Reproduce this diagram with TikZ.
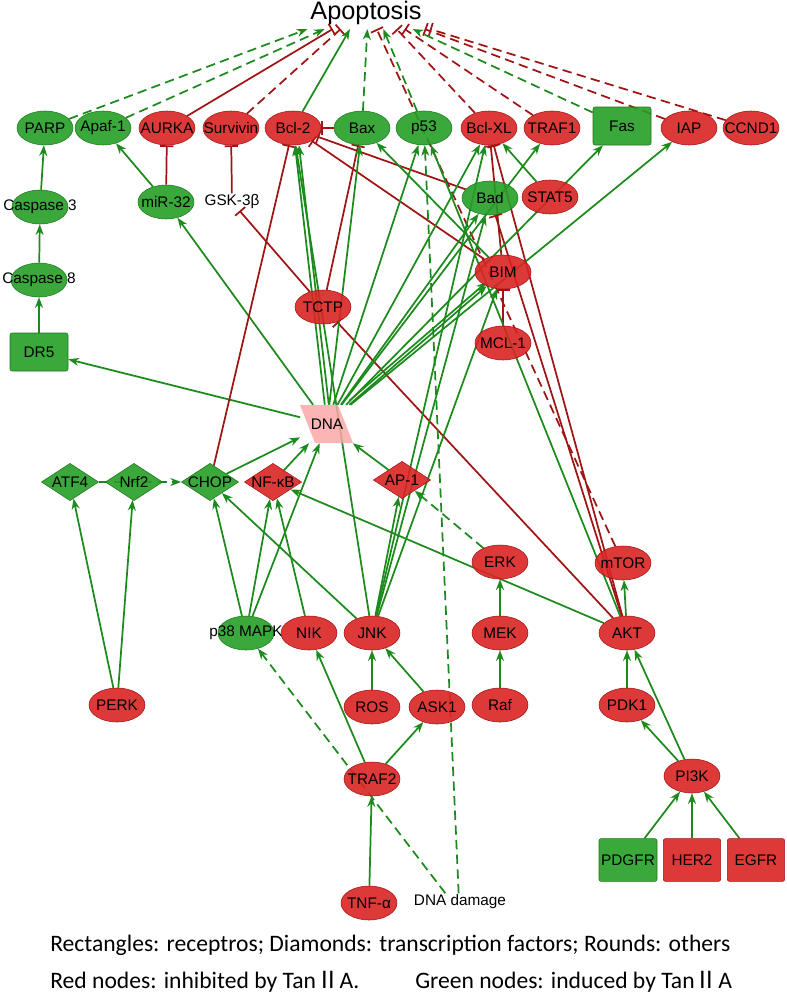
\documentclass[tikz,border=0pt]{standalone}
\usepackage{fontspec}
\setmainfont{Liberation Sans}
\newfontfamily\legendfont{Carlito}
\newfontfamily\cjkfont{Noto Sans CJK SC}
\usepackage{tikz}
\usetikzlibrary{shapes.geometric, arrows.meta}
\pgfdeclarelayer{edges}
\pgfsetlayers{edges,main}

\definecolor{ngreen}{RGB}{38,158,38}
\definecolor{ngreenline}{RGB}{28,120,28}
\definecolor{nred}{RGB}{218,36,36}
\definecolor{nredline}{RGB}{160,18,18}
\definecolor{lgreen}{RGB}{28,138,28}
\definecolor{lred}{RGB}{160,20,20}
\definecolor{dnapink}{RGB}{250,168,168}

\newcommand{\nodefont}{\fontsize{11.5}{13}\selectfont}
\newcommand{\romtwo}{{\cjkfont Ⅱ}}

\tikzset{
  base/.style={inner sep=0pt, font=\nodefont, fill opacity=0.9, text opacity=1,
    execute at begin node={\hbox to 0pt\bgroup\hss},
    execute at end node={\hss\egroup}},
  gnode/.style={base, ellipse, fill=ngreen, draw=ngreenline, minimum width=42pt, minimum height=25.5pt},
  rnode/.style={base, ellipse, fill=nred, draw=nredline, minimum width=42pt, minimum height=25.5pt},
  grect/.style={base, rectangle, rounded corners=1.5pt, fill=ngreen, draw=ngreenline, minimum width=43.5pt, minimum height=28.5pt},
  rrect/.style={base, rectangle, rounded corners=1.5pt, fill=nred, draw=nredline, minimum width=43pt, minimum height=32pt},
  gdia/.style={base, diamond, aspect=1.5, fill=ngreen, draw=ngreenline, minimum width=43pt, minimum height=28pt},
  rdia/.style={base, diamond, aspect=1.5, fill=nred, draw=nredline, minimum width=43pt, minimum height=28pt},
  plain/.style={font=\nodefont, inner sep=1pt},
  gact/.style={draw=lgreen, line width=1.3pt, -{Stealth[length=8pt,width=6pt]}},
  gdash/.style={gact, dash pattern=on 7pt off 4pt},
  rinh/.style={draw=lred, line width=1.3pt, -{Bar[width=10pt]}},
  rdash/.style={rinh, dash pattern=on 7pt off 4pt},
}

\begin{document}
\begin{tikzpicture}[x=0.75pt, y=-0.75pt, >=stealth]
    \useasboundingbox (0,0) rectangle (787,1006);

    % Title
    \node[font=\fontsize{19}{22}\selectfont, inner xsep=0pt, inner ysep=3pt] (apo) at (366,13) {Apoptosis};

    % Top row
    \node[gnode] (parp) at (45,128) {PARP};
    \node[gnode] (apaf) at (103,128) {Apaf-1};
    \node[rnode] (aurka) at (167,128) {AURKA};
    \node[rnode] (surv) at (231,128) {Survivin};
    \node[rnode] (bcl2) at (293,128) {Bcl-2};
    \node[gnode] (bax) at (362,128) {Bax};
    \node[gnode] (p53) at (424,128) {p53};
    \node[rnode] (bclxl) at (489,128) {Bcl-XL};
    \node[rnode] (traf1) at (552,128) {TRAF1};
    \node[grect] (fas) at (622,126) {Fas};
    \node[rnode] (iap) at (689,128) {IAP};
    \node[rnode] (ccnd1) at (751,128) {CCND1};

    % Left column
    \node[gnode] (casp3) at (40,207) {Caspase 3};
    \node[gnode] (casp8) at (39,280) {Caspase 8};
    \node[grect] (dr5) at (39,352) {DR5};

    % Middle layer
    \node[gnode] (mir32) at (166,202) {miR-32};
    \node[plain] (gsk) at (232,202) {GSK-3β};
    \node[gnode] (bad) at (490,198) {Bad};
    \node[rnode] (stat5) at (550,197) {STAT5};
    \node[rnode] (bim) at (503,272) {BIM};
    \node[rnode] (tctp) at (323,307) {TCTP};
    \node[rnode] (mcl1) at (503,343) {MCL-1};

    % DNA hub (parallelogram)
    \fill[dnapink, opacity=0.85] (300,405) -- (338,405) -- (353,443) -- (315,443) -- cycle;
    \node[base, rectangle, minimum width=40pt, minimum height=28.5pt] (dna) at (327,424) {DNA};

    % Transcription factors
    \node[gdia] (atf4) at (70,482) {ATF4};
    \node[gdia] (nrf2) at (134,482) {Nrf2};
    \node[gdia] (chop) at (210,482) {CHOP};
    \node[rdia] (nfkb) at (273,482) {NF-κB};
    \node[rdia] (ap1) at (402,480) {AP-1};

    % Kinases
    \node[rnode] (erk) at (500,562) {ERK};
    \node[rnode] (mtor) at (623,563) {mTOR};
    \node[gnode] (p38) at (246,633) {p38 MAPK};
    \node[rnode] (nik) at (309,633) {NIK};
    \node[rnode] (jnk) at (372,633) {JNK};
    \node[rnode] (mek) at (500,633) {MEK};
    \node[rnode] (akt) at (627,633) {AKT};
    \node[rnode] (perk) at (117,705) {PERK};
    \node[rnode] (ros) at (372,707) {ROS};
    \node[rnode] (ask1) at (437,707) {ASK1};
    \node[rnode] (raf) at (500,705) {Raf};
    \node[rnode] (pdk1) at (627,705) {PDK1};
    \node[rnode] (traf2) at (372,779) {TRAF2};
    \node[rnode] (pi3k) at (692,776) {PI3K};

    % Receptors and stimuli
    \node[grect, minimum height=32pt] (pdgfr) at (628,860) {PDGFR};
    \node[rrect] (her2) at (692,860) {HER2};
    \node[rrect] (egfr) at (756,860) {EGFR};
    \node[rnode] (tnfa) at (369,903) {TNF-α};
    \node[plain] (dnadmg) at (460,902) {DNA damage};

    % Legend
    \node[anchor=west, inner sep=0pt, font=\legendfont\fontsize{17.7}{20}\selectfont] (leg1) at (50,945)
        {Rectangles: receptros; Diamonds: transcription factors; Rounds: others};
    \node[anchor=west, inner sep=0pt, font=\legendfont\fontsize{17.7}{20}\selectfont] (leg2) at (50,982)
        {Red nodes: inhibited by Tan\romtwo A.};
    \node[anchor=west, inner sep=0pt, font=\legendfont\fontsize{17.7}{20}\selectfont] (leg3) at (415,982)
        {Green nodes: induced by Tan\romtwo A};

    \begin{pgfonlayer}{edges}
    % Into apoptosis
    \draw[gdash] (parp) -- ([xshift=-44pt]apo.south);
    \draw[gdash] (apaf) -- ([xshift=-31pt]apo.south);
    \draw[rinh] (aurka) -- ([xshift=-25pt]apo.south);
    \draw[rdash] (surv) -- ([xshift=-19pt]apo.south);
    \draw[gact] (bcl2) -- ([xshift=-12pt]apo.south);
    \draw[gdash] (bax) -- ([xshift=1pt]apo.south);
    \draw[rdash] (mtor) -- ([xshift=8pt]apo.south);
    \draw[gdash] (p53) -- ([xshift=13pt]apo.south);
    \draw[rdash] (bclxl) -- ([xshift=23pt]apo.south);
    \draw[rdash] (traf1) -- ([xshift=29pt]apo.south);
    \draw[gdash] (fas) -- ([xshift=35pt]apo.south);
    \draw[rdash] (iap) -- ([xshift=44pt]apo.south);
    \draw[rdash] (ccnd1) -- ([xshift=48pt]apo.south);

    % Caspase cascade
    \draw[gact] (casp3) -- (parp);
    \draw[gact] (casp8) -- (casp3);
    \draw[gact] (dr5) -- (casp8);
    \draw[gact] (dna) -- (dr5);
    \draw[gact] (dna) -- (mir32);
    \draw[gact] (mir32) -- (apaf);
    \draw[rinh] (mir32) -- (aurka);
    \draw[rinh] (gsk) -- (surv);
    \draw[rinh] (tctp) -- (gsk);

    % Bcl-2 family
    \draw[rinh] (bax) -- (bcl2);
    \draw[rinh] (chop) -- (bcl2);
    \draw[rinh] (bad) -- (bcl2);
    \draw[rinh] (bim) -- (bcl2);
    \draw[rinh] (tctp) -- (bax);
    \draw[rinh] (akt) -- (tctp);
    \draw[rinh] (akt) -- (bad);
    \draw[rinh] (akt) -- (bclxl);
    \draw[rinh] (bim) -- (bclxl);
    \draw[rinh] (mcl1) -- (bim);
    \draw[gact] (bim) -- (bax);
    \draw[gact] (stat5) -- (bclxl);

    % Fan out of DNA
    \draw[gact] (dna) -- (bcl2);
    \draw[gact, transform canvas={xshift=3pt}] (dna) -- (bcl2);
    \draw[gact] (dna) -- (bax);
    \draw[gact] (dna) -- (p53);
    \draw[gact] (dna) -- (bclxl);
    \draw[gact] (dna) -- (bad);
    \draw[gact] (dna) -- (traf1);
    \draw[gact] (dna) -- (fas);
    \draw[gact] (dna) -- (iap);
    \draw[gact] (dna) -- (bim);
    \draw[gact, transform canvas={yshift=3pt}] (dna) -- (bim);

    % Into DNA and transcription factors
    \draw[gact] (chop) -- (dna);
    \draw[gact] (nfkb) -- (dna);
    \draw[gact] (ap1) -- (dna);
    \draw[gact] (p38) -- (dna);
    \draw[gact] (p38) -- (nfkb);
    \draw[gact] (p38) -- (chop);
    \draw[gact] (nik) -- (nfkb);
    \draw[gact] (jnk) -- (chop);
    \draw[gact] (jnk) -- (ap1);
    \draw[gact] (jnk) -- (bcl2);
    \draw[gact] (jnk) -- (bclxl);
    \draw[gact] (jnk) -- (bad);
    \draw[gact] (jnk) -- (bim);
    \draw[gact] (akt) -- (nfkb);
    \draw[gact] (akt) -- (p53);
    \draw[gact] (perk) -- (atf4);
    \draw[gact] (perk) -- (nrf2);
    \draw[gdash] (atf4) -- (chop);
    \draw[gdash] (erk) -- (ap1);

    % Upstream kinases
    \draw[gact] (akt) -- (mtor);
    \draw[gact] (mek) -- (erk);
    \draw[gact] (raf) -- (mek);
    \draw[gact] (pdk1) -- (akt);
    \draw[gact] (pi3k) -- (pdk1);
    \draw[gact] (pi3k) -- (akt);
    \draw[gact] (pdgfr) -- (pi3k);
    \draw[gact] (her2) -- (pi3k);
    \draw[gact] (egfr) -- (pi3k);
    \draw[gact] (ros) -- (jnk);
    \draw[gact] (ask1) -- (jnk);
    \draw[gact] (traf2) -- (ask1);
    \draw[gact] (traf2) -- (nik);
    \draw[gact] (tnfa) -- (traf2);
    \draw[gdash] ([xshift=-11pt]dnadmg.north) -- (p38);
    \draw[gdash] ([xshift=-1pt]dnadmg.north) -- (p53);
    \end{pgfonlayer}
\end{tikzpicture}
\end{document}
